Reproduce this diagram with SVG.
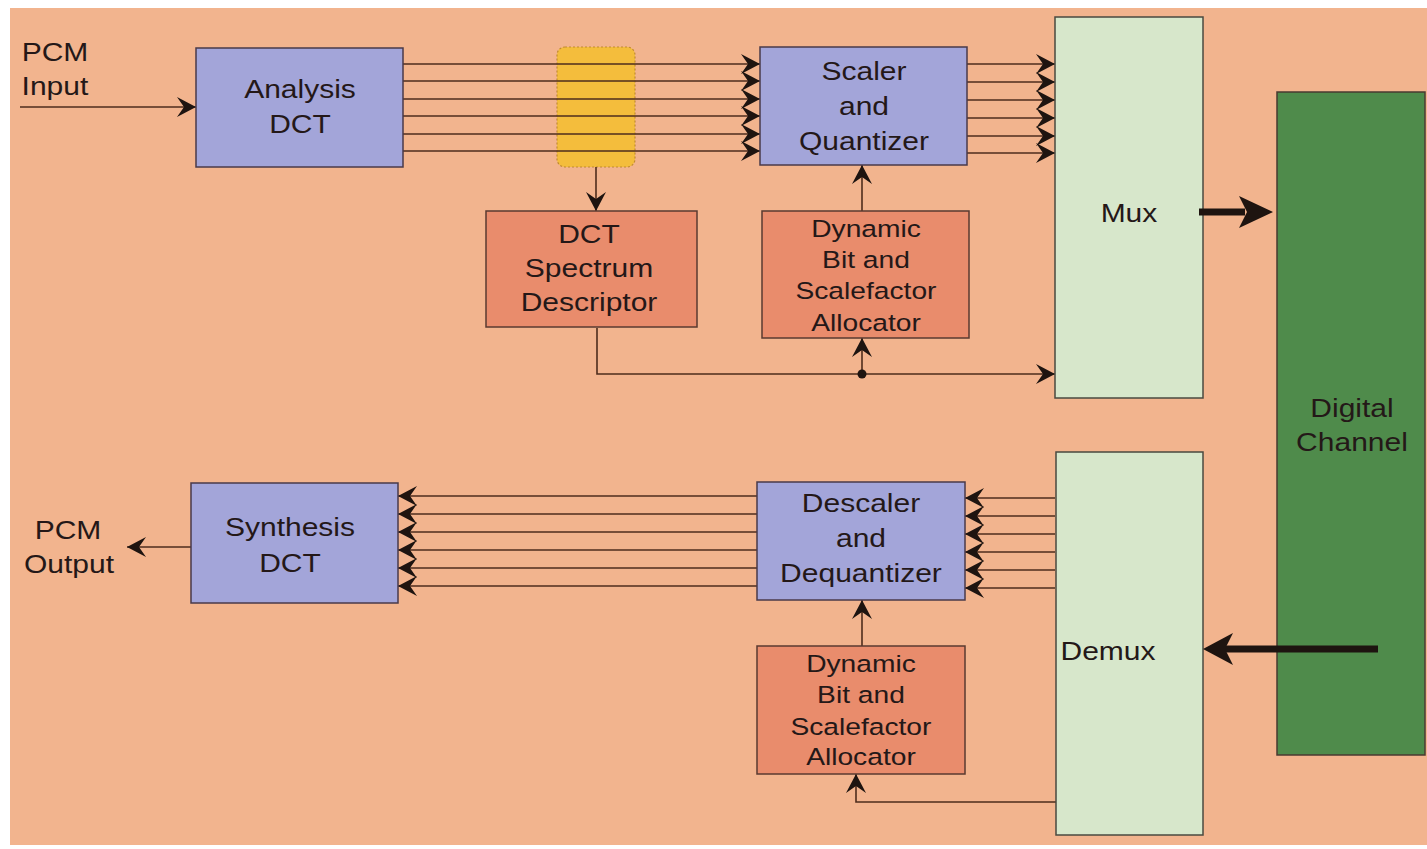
<svg xmlns="http://www.w3.org/2000/svg" width="1427" height="849" viewBox="0 0 1427 849">
<style>
.t { font-family: "Liberation Sans", Arial, sans-serif; font-size: 25px; fill: #241818; text-anchor: middle; transform-box: fill-box; transform-origin: center; transform: scaleX(1.2); }
.s { font-size: 23.5px; }
.blue { fill: #a3a5d9; stroke: #4a3a4a; stroke-width: 1.5; }
.red { fill: #e98c6c; stroke: #5a3a30; stroke-width: 1.5; }
.mux { fill: #d7e7cb; stroke: #4a4a40; stroke-width: 1.5; }
.ch { fill: #4f8b4b; stroke: #4a3a30; stroke-width: 1.5; }
.ln { stroke: #4e2c1c; stroke-width: 1.6; fill: none; }
.thick { fill: #1e1410; }
</style>
<defs>
<marker id="ah" markerUnits="userSpaceOnUse" markerWidth="24" markerHeight="24" viewBox="-22 -12 24 24" refX="0" refY="0" orient="auto">
<path d="M0,0 L-19,-10 L-12,0 L-19,10 Z" fill="#1e1410"/>
</marker>
</defs>
<rect x="0" y="0" width="1427" height="849" fill="#ffffff"/>
<rect x="10" y="8" width="1417" height="837" fill="#f2b48e"/>

<g id="spectrum-tap">
<rect x="557" y="47" width="78" height="120" rx="8" ry="8" fill="#f4bd3c" stroke="#c08a30" stroke-width="1.2" stroke-dasharray="2 2"/>
</g>

<g id="connectors">
<line class="ln" x1="20" y1="107" x2="196" y2="107" marker-end="url(#ah)"/>
<g id="an-to-sq">
<line class="ln" x1="403" y1="64" x2="760" y2="64" marker-end="url(#ah)"/>
<line class="ln" x1="403" y1="81" x2="760" y2="81" marker-end="url(#ah)"/>
<line class="ln" x1="403" y1="99" x2="760" y2="99" marker-end="url(#ah)"/>
<line class="ln" x1="403" y1="116" x2="760" y2="116" marker-end="url(#ah)"/>
<line class="ln" x1="403" y1="134" x2="760" y2="134" marker-end="url(#ah)"/>
<line class="ln" x1="403" y1="151" x2="760" y2="151" marker-end="url(#ah)"/>
</g>
<g id="sq-to-mux">
<line class="ln" x1="967" y1="64" x2="1055" y2="64" marker-end="url(#ah)"/>
<line class="ln" x1="967" y1="82" x2="1055" y2="82" marker-end="url(#ah)"/>
<line class="ln" x1="967" y1="100" x2="1055" y2="100" marker-end="url(#ah)"/>
<line class="ln" x1="967" y1="118" x2="1055" y2="118" marker-end="url(#ah)"/>
<line class="ln" x1="967" y1="136" x2="1055" y2="136" marker-end="url(#ah)"/>
<line class="ln" x1="967" y1="153" x2="1055" y2="153" marker-end="url(#ah)"/>
</g>
<line class="ln" x1="596" y1="167" x2="596" y2="211" marker-end="url(#ah)"/>
<line class="ln" x1="862" y1="211" x2="862" y2="165" marker-end="url(#ah)"/>
<polyline class="ln" points="597,328 597,374 1055,374" marker-end="url(#ah)"/>
<line class="ln" x1="862" y1="374" x2="862" y2="338" marker-end="url(#ah)"/>
<circle cx="862" cy="374" r="4.5" fill="#1e1410"/>
<g id="demux-to-dq">
<line class="ln" x1="1055" y1="498" x2="965" y2="498" marker-end="url(#ah)"/>
<line class="ln" x1="1055" y1="516" x2="965" y2="516" marker-end="url(#ah)"/>
<line class="ln" x1="1055" y1="534" x2="965" y2="534" marker-end="url(#ah)"/>
<line class="ln" x1="1055" y1="552" x2="965" y2="552" marker-end="url(#ah)"/>
<line class="ln" x1="1055" y1="570" x2="965" y2="570" marker-end="url(#ah)"/>
<line class="ln" x1="1055" y1="588" x2="965" y2="588" marker-end="url(#ah)"/>
</g>
<g id="dq-to-syn">
<line class="ln" x1="757" y1="496" x2="398" y2="496" marker-end="url(#ah)"/>
<line class="ln" x1="757" y1="514" x2="398" y2="514" marker-end="url(#ah)"/>
<line class="ln" x1="757" y1="532" x2="398" y2="532" marker-end="url(#ah)"/>
<line class="ln" x1="757" y1="550" x2="398" y2="550" marker-end="url(#ah)"/>
<line class="ln" x1="757" y1="568" x2="398" y2="568" marker-end="url(#ah)"/>
<line class="ln" x1="757" y1="586" x2="398" y2="586" marker-end="url(#ah)"/>
</g>
<line class="ln" x1="862" y1="646" x2="862" y2="600" marker-end="url(#ah)"/>
<polyline class="ln" points="1056,802 856,802 856,774" marker-end="url(#ah)"/>
<line class="ln" x1="191" y1="547" x2="127" y2="547" marker-end="url(#ah)"/>
</g>

<g id="pcm-input">
<text class="t" x="55" y="61">PCM</text>
<text class="t" x="55" y="95">Input</text>
</g>
<g id="analysis-dct">
<rect class="blue" x="196" y="48" width="207" height="119"/>
<text class="t" x="300" y="98">Analysis</text>
<text class="t" x="300" y="133">DCT</text>
</g>
<g id="scaler-quantizer">
<rect class="blue" x="760" y="47" width="207" height="118"/>
<text class="t" x="864" y="80">Scaler</text>
<text class="t" x="864" y="115">and</text>
<text class="t" x="864" y="150">Quantizer</text>
</g>
<g id="dct-spectrum-descriptor">
<rect class="red" x="486" y="211" width="211" height="116"/>
<text class="t" x="589" y="243">DCT</text>
<text class="t" x="589" y="277">Spectrum</text>
<text class="t" x="589" y="311">Descriptor</text>
</g>
<g id="allocator-top">
<rect class="red" x="762" y="211" width="207" height="127"/>
<text class="t s" x="866" y="237">Dynamic</text>
<text class="t s" x="866" y="268">Bit and</text>
<text class="t s" x="866" y="299">Scalefactor</text>
<text class="t s" x="866" y="331">Allocator</text>
</g>
<g id="mux">
<rect class="mux" x="1055" y="17" width="148" height="381"/>
<text class="t" x="1129" y="222">Mux</text>
</g>
<g id="digital-channel">
<rect class="ch" x="1277" y="92" width="148" height="663"/>
<text class="t" x="1352" y="417">Digital</text>
<text class="t" x="1352" y="451">Channel</text>
</g>
<g id="demux">
<rect class="mux" x="1056" y="452" width="147" height="383"/>
<text class="t" x="1108" y="660">Demux</text>
</g>
<g id="descaler-dequantizer">
<rect class="blue" x="757" y="482" width="208" height="118"/>
<text class="t" x="861" y="512">Descaler</text>
<text class="t" x="861" y="547">and</text>
<text class="t" x="861" y="582">Dequantizer</text>
</g>
<g id="allocator-bottom">
<rect class="red" x="757" y="646" width="208" height="128"/>
<text class="t s" x="861" y="672">Dynamic</text>
<text class="t s" x="861" y="703">Bit and</text>
<text class="t s" x="861" y="735">Scalefactor</text>
<text class="t s" x="861" y="765">Allocator</text>
</g>
<g id="synthesis-dct">
<rect class="blue" x="191" y="483" width="207" height="120"/>
<text class="t" x="290" y="536">Synthesis</text>
<text class="t" x="290" y="572">DCT</text>
</g>
<g id="pcm-output">
<text class="t" x="68" y="539">PCM</text>
<text class="t" x="69" y="573">Output</text>
</g>

<g id="thick-connectors">
<g id="mux-to-channel">
<rect class="thick" x="1199" y="208.5" width="46" height="7"/>
<polygon class="thick" points="1273,212 1239,196 1247,212 1239,228"/>
</g>
<g id="channel-to-demux">
<rect class="thick" x="1224" y="645.5" width="154" height="7"/>
<polygon class="thick" points="1203,649 1233,633 1225,649 1233,665"/>
</g>
</g>
</svg>
